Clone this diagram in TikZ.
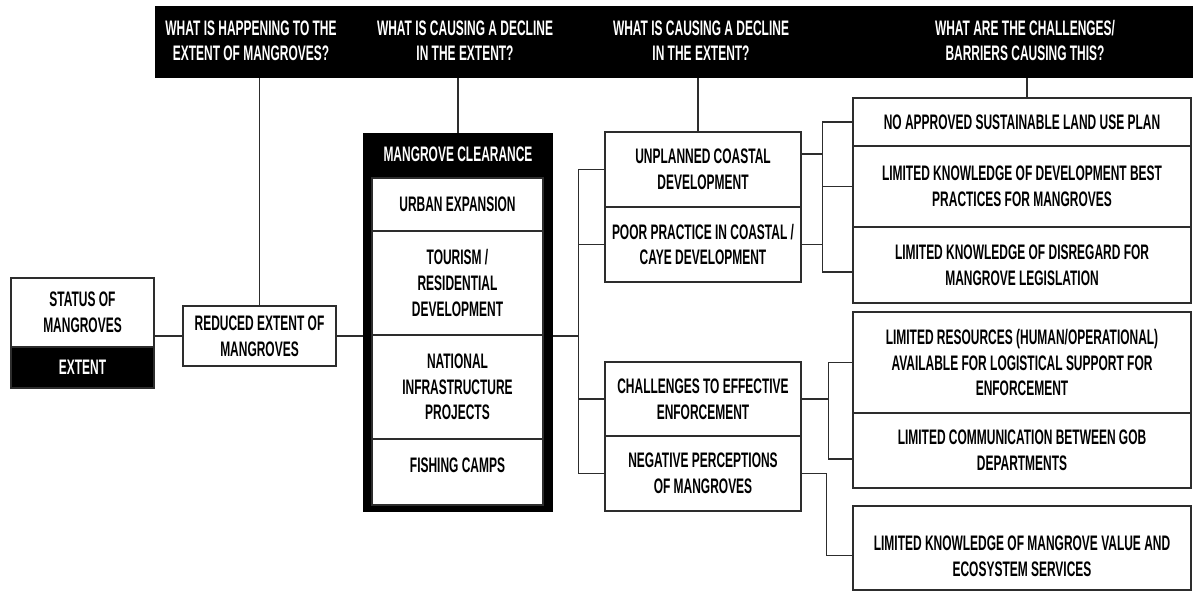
\documentclass[tikz,border=0pt]{standalone}
\usepackage{fontspec}
\setmainfont[FakeStretch=0.57]{Liberation Sans}
\definecolor{mgline}{RGB}{45,45,45}
\newcommand{\mgfont}{\bfseries\fontsize{10.5}{12.8}\selectfont}
\usetikzlibrary{positioning}

\begin{document}
\begin{tikzpicture}[x=0.5pt, y=-0.5pt,
  box/.style={draw=mgline, line width=0.7pt, fill=white, align=center, inner sep=0pt, font=\mgfont},
  qtext/.style={text=white, align=center, inner sep=0pt, font=\bfseries\fontsize{10.5}{12.5}\selectfont},
  item/.style={box, minimum width=85.5pt},
  midbox/.style={box, minimum width=98pt, minimum height=37.5pt},
  barrier/.style={box, minimum width=169pt},
  conn/.style={draw=mgline, line width=0.7pt}]
  \useasboundingbox (0,0) rectangle (1193,592);

  %% Question header
  \node[fill=black, minimum width=519pt, minimum height=36pt, inner sep=0pt] (head) at (674,42) {};
  \node[qtext] (q1) at (251,40.5)  {WHAT IS HAPPENING TO THE\\EXTENT OF MANGROVES?};
  \node[qtext] (q2) at (465,40.5)  {WHAT IS CAUSING A DECLINE\\IN THE EXTENT?};
  \node[qtext] (q3) at (701,40.5)  {WHAT IS CAUSING A DECLINE\\IN THE EXTENT?};
  \node[qtext] (q4) at (1025,40.5) {WHAT ARE THE CHALLENGES/\\BARRIERS CAUSING THIS?};

  %% Status and extent
  \node[box, minimum width=71.5pt, minimum height=34.5pt] (status) at (82.5,312.5) {STATUS OF\\MANGROVES};
  \node[box, fill=black, text=white, minimum width=71.5pt, minimum height=20.5pt] (extent) at (82.5,367.5) {EXTENT};
  \node[box, minimum width=76.5pt, minimum height=30pt] (reduced) at (259.5,336) {REDUCED EXTENT OF\\MANGROVES};

  %% Mangrove clearance
  \node[fill=black, minimum width=95pt, minimum height=189.5pt, inner sep=0pt] (clear) at (458,322.5) {};
  \node[qtext, font=\mgfont] (cleart) at (458,154) {MANGROVE CLEARANCE};
  \node[item, minimum height=26.5pt] (urban)    at (457.5,204.5) {URBAN EXPANSION};
  \node[item, minimum height=52pt]   (tourism)  at (457.5,283)   {TOURISM /\\RESIDENTIAL\\DEVELOPMENT};
  \node[item, minimum height=52pt]   (national) at (457.5,387)   {NATIONAL\\INFRASTRUCTURE\\PROJECTS};
  \node[item, minimum height=33pt]   (fish)     at (457.5,472)   {};
  \node[font=\mgfont, inner sep=0pt] (fisht) at ([yshift=-13.5pt]fish.north) {FISHING CAMPS};

  %% Direct causes
  \node[midbox] (unpl) at (703,169.5) {UNPLANNED COASTAL\\DEVELOPMENT};
  \node[midbox] (poor) at (703,244.5) {POOR PRACTICE IN COASTAL /\\CAYE DEVELOPMENT};
  \node[midbox, minimum height=37pt] (chal) at (703,399) {CHALLENGES TO EFFECTIVE\\ENFORCEMENT};
  \node[midbox] (neg)  at (703,473.5) {NEGATIVE PERCEPTIONS\\OF MANGROVES};

  %% Barriers
  \node[barrier, minimum height=24pt]   (noplan) at (1022,122)   {NO APPROVED SUSTAINABLE LAND USE PLAN};
  \node[barrier, minimum height=40.5pt] (best)   at (1022,186.5) {LIMITED KNOWLEDGE OF DEVELOPMENT BEST\\PRACTICES FOR MANGROVES};
  \node[barrier, minimum height=38pt]   (legis)  at (1022,265)   {LIMITED KNOWLEDGE OF DISREGARD FOR\\MANGROVE LEGISLATION};
  \node[barrier, minimum height=50.5pt] (res)    at (1022,362.5) {LIMITED RESOURCES (HUMAN/OPERATIONAL)\\AVAILABLE FOR LOGISTICAL SUPPORT FOR\\ENFORCEMENT};
  \node[barrier, minimum height=37.5pt] (comm)   at (1022,450.5) {LIMITED COMMUNICATION BETWEEN GOB\\DEPARTMENTS};
  \node[barrier, minimum height=42pt]   (value)  at (1022,548)   {};
  \node[font=\mgfont, align=center, inner sep=0pt] (valuet) at ([yshift=-4pt]value.center) {LIMITED KNOWLEDGE OF MANGROVE VALUE AND\\ECOSYSTEM SERVICES};

  %% Drops from the header
  \coordinate (q3foot) at ([xshift=-2.5pt]unpl.north);
  \coordinate (q4foot) at ([xshift=2.5pt]noplan.north);
  \draw[conn] (head.south -| reduced.north) -- (reduced.north);
  \draw[conn] (head.south -| clear.north) -- (clear.north);
  \draw[conn] (q3foot |- head.south) -- (q3foot);
  \draw[conn] (q4foot |- head.south) -- (q4foot);

  %% Left chain
  \draw[conn] (reduced.west -| status.east) -- (reduced.west);
  \draw[conn] (reduced.east) -- (reduced.east -| clear.west);

  %% Bus to the direct causes
  \draw[conn] (unpl.west) -- ++(-13pt,0) coordinate (bus1) -- (bus1 |- neg.west) -- (neg.west);
  \draw[conn] (poor.west -| bus1) -- (poor.west);
  \draw[conn] (chal.west -| bus1) -- (chal.west);
  \draw[conn] (clear.east |- reduced.east) -- (reduced.east -| bus1);

  %% Bus to the planning barriers
  \coordinate (legisin) at ([yshift=-3.5pt]legis.west);
  \draw[conn] ([yshift=7.75pt]unpl.east) -- ++(10.5pt,0) coordinate (bus2);
  \draw[conn] (poor.east) -- (poor.east -| bus2);
  \draw[conn] (noplan.west) -- (noplan.west -| bus2) -- (legisin -| bus2) -- (legisin);
  \draw[conn] (best.west -| bus2) -- (best.west);

  %% Bus to the enforcement barriers
  \coordinate (commin) at ([yshift=-4.25pt]comm.west);
  \draw[conn] (chal.east) -- ++(13.5pt,0) coordinate (bus3);
  \draw[conn] (res.west) -- (res.west -| bus3) -- (commin -| bus3) -- (commin);

  %% Perceptions
  \coordinate (valuein) at ([yshift=-3.75pt]value.west);
  \draw[conn] (neg.east) -- ++(12.5pt,0) |- (valuein);
\end{tikzpicture}
\end{document}
